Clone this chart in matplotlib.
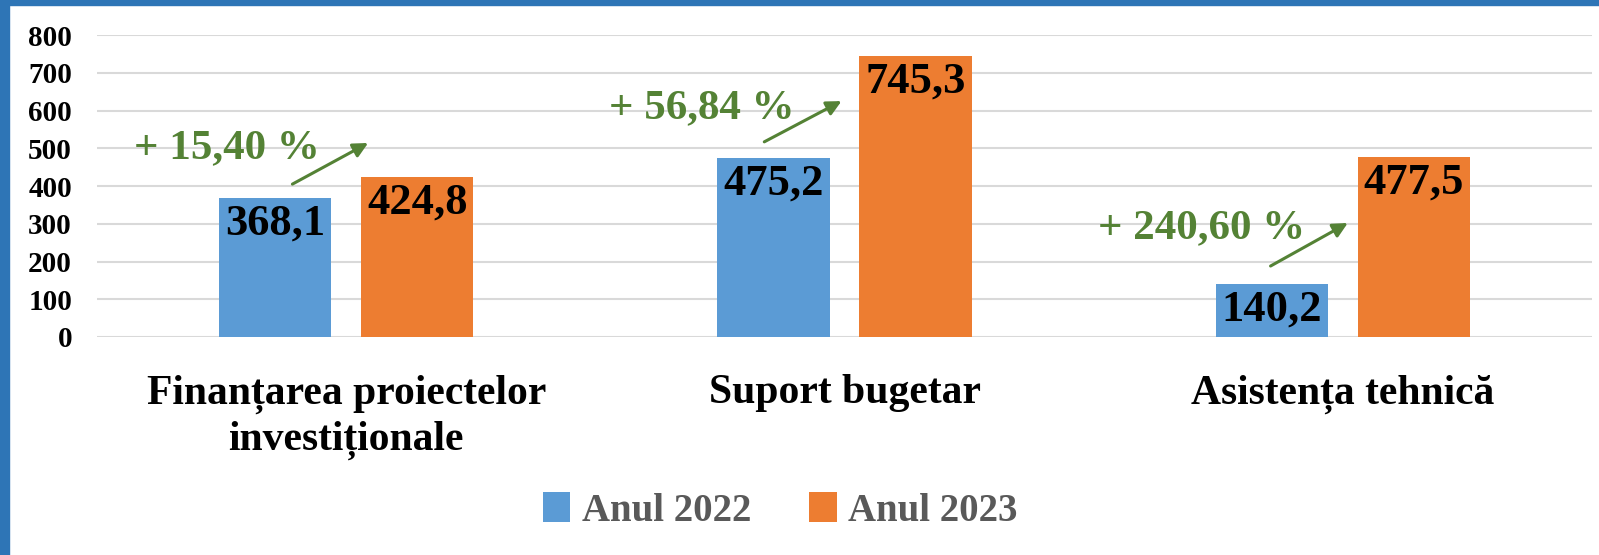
import numpy as np
import matplotlib
matplotlib.use("Agg")
import matplotlib.pyplot as plt
from matplotlib.patches import Rectangle

categories = ["Finanțarea proiectelor\ninvestiționale", "Suport bugetar", "Asistența tehnică"]
values_2022 = [368.1, 475.2, 140.2]
values_2023 = [424.8, 745.3, 477.5]
growth_labels = ["+ 15,40 %", "+ 56,84 %", "+ 240,60 %"]
series_names = ["Anul 2022", "Anul 2023"]
yticks = [0, 100, 200, 300, 400, 500, 600, 700, 800]

BLUE = "#5B9BD5"
ORANGE = "#ED7D31"
GREEN = "#548235"
GRID = "#D9D9D9"
FRAME = "#2E75B6"

plt.rcParams["font.family"] = ["Liberation Serif", "DejaVu Serif"]
plt.rcParams["font.weight"] = "bold"

fig = plt.figure(figsize=(15.99, 5.55), dpi=100)
ax = fig.add_axes([0.0607, 0.3928, 0.9349, 0.5441])

x = np.arange(len(categories))
w = 0.225
off = 0.1425
b1 = ax.bar(x - off, values_2022, w, color=BLUE, label=series_names[0], zorder=3)
b2 = ax.bar(x + off, values_2023, w, color=ORANGE, label=series_names[1], zorder=3)

# etichete valori in interiorul barelor
for bars in (b1, b2):
    for bar in bars:
        h = bar.get_height()
        ax.annotate(f"{h:.1f}".replace(".", ","),
                    (bar.get_x() + bar.get_width() / 2, h),
                    xytext=(0, -4), textcoords="offset points",
                    ha="center", va="top", fontsize=32, weight="bold",
                    color="black", zorder=4)

# sageti si procente de crestere
arrow_start = [(-0.108, 405), (-0.161, 517), (-0.145, 188)]
arrow_end = [(0.044, 514), (-0.006, 625), (0.010, 302)]
text_pos = [(-0.239, 500), (-0.287, 607), (-0.283, 289)]
for i in range(len(categories)):
    ax.annotate("", xy=(i + arrow_end[i][0], arrow_end[i][1]),
                xytext=(i + arrow_start[i][0], arrow_start[i][1]),
                arrowprops=dict(arrowstyle="-|>", color=GREEN, lw=2.2,
                                mutation_scale=22, shrinkA=0, shrinkB=0),
                zorder=5)
    ax.text(i + text_pos[i][0], text_pos[i][1], growth_labels[i],
            ha="center", va="center", fontsize=31, weight="bold",
            color=GREEN, zorder=5)

ax.set_xlim(-0.5, 2.5)
ax.set_ylim(0, 800)
ax.set_yticks(yticks)
ax.set_yticklabels([str(t) for t in yticks], fontsize=21, weight="bold")
ax.set_xticks(x)
ax.set_xticklabels(categories, fontsize=30, weight="bold", linespacing=1.25)
ax.tick_params(axis="y", length=0, pad=18)
ax.tick_params(axis="x", length=0, pad=27)
ax.grid(axis="y", color=GRID, lw=1.5, zorder=0)
ax.set_axisbelow(True)
for s in ax.spines.values():
    s.set_visible(False)

leg = fig.legend(loc="center", bbox_to_anchor=(0.488, 0.079), ncol=2, frameon=False,
                 fontsize=28, handlelength=0.7, handleheight=0.8, handletextpad=0.3,
                 columnspacing=1.5)
for t in leg.get_texts():
    t.set_color("#595959")
    t.set_fontweight("bold")

# chenar albastru (sus si stanga)
fig.patches.append(Rectangle((0, 1 - 5 / 555), 1, 5 / 555, transform=fig.transFigure,
                             color=FRAME, zorder=10))
fig.patches.append(Rectangle((0, 0), 9 / 1599, 1, transform=fig.transFigure,
                             color=FRAME, zorder=10))

fig.savefig("out.png", dpi=100)
